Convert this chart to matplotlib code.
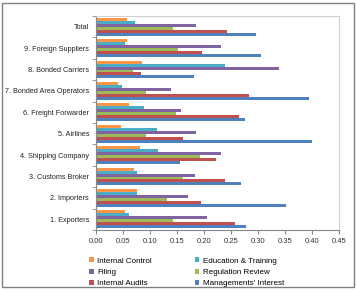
import matplotlib.pyplot as plt
import numpy as np
from matplotlib.patches import Rectangle

# categories from bottom to top
categories = ["1. Exporters", "2. Importers", "3. Customs Broker", "4. Shipping Company",
              "5. Airlines", "6. Freight Forwarder", "7. Bonded Area Operators",
              "8. Bonded Carriers", "9. Foreign Suppliers", "Total"]

internal_control = [0.053, 0.076, 0.071, 0.081, 0.047, 0.062, 0.041, 0.086, 0.057, 0.058]
education_training = [0.062, 0.076, 0.075, 0.115, 0.113, 0.089, 0.048, 0.238, 0.053, 0.073]
filing = [0.205, 0.170, 0.183, 0.231, 0.185, 0.157, 0.138, 0.338, 0.231, 0.185]
regulation_review = [0.143, 0.131, 0.161, 0.192, 0.093, 0.149, 0.093, 0.069, 0.152, 0.143]
internal_audits = [0.257, 0.194, 0.239, 0.223, 0.161, 0.264, 0.283, 0.084, 0.197, 0.243]
mgmt_interest = [0.278, 0.351, 0.269, 0.155, 0.400, 0.275, 0.394, 0.181, 0.306, 0.297]

series = [
    ("Internal Control", internal_control, "#F79646"),
    ("Education & Training", education_training, "#4BACC6"),
    ("Filing", filing, "#8064A2"),
    ("Regulation Review", regulation_review, "#9BBB59"),
    ("Internal Audits", internal_audits, "#C0504D"),
    ("Managements' Interest", mgmt_interest, "#4F81BD"),
]

plt.rcParams['font.family'] = ['Liberation Sans', 'DejaVu Sans']

fig = plt.figure(figsize=(3.56, 2.90), dpi=100)
ax = fig.add_axes([96 / 356, 1 - 230 / 290, 243 / 356, 214 / 290])

y = np.arange(len(categories))
h = 0.14
bars = {}
for i, (name, vals, col) in enumerate(series):
    # first series sits on top of each group
    bars[name] = ax.barh(y + (2.5 - i) * h, vals, height=h, color=col, label=name)

ax.set_xlim(0, 0.45)
ax.set_ylim(-0.5, len(categories) - 0.5)
ax.set_xticks(np.arange(0, 0.451, 0.05))
ax.set_xticklabels([f"{v:.2f}" for v in np.arange(0, 0.451, 0.05)], fontsize=5.5, color="#333333")
ax.set_yticks(y)
ax.set_yticklabels(categories, fontsize=5.2, color="#222222")
ax.set_yticks(np.arange(-0.5, len(categories), 1), minor=True)
ax.tick_params(axis="y", which="major", length=0, pad=5)
ax.tick_params(axis="y", which="minor", length=3, color="#888888")
ax.tick_params(axis="x", length=3, color="#888888", pad=3)
for s in ["left", "bottom"]:
    ax.spines[s].set_color("#888888")
    ax.spines[s].set_linewidth(0.8)
for s in ["top", "right"]:
    ax.spines[s].set_color("#D0D0D0")
    ax.spines[s].set_linewidth(0.8)

# legend laid out row by row like the original
order = ["Internal Control", "Education & Training", "Filing", "Regulation Review",
         "Internal Audits", "Managements' Interest"]
col_major = [order[0], order[2], order[4], order[1], order[3], order[5]]
fig.legend([bars[n] for n in col_major], col_major, ncol=2, loc="upper left",
           bbox_to_anchor=(86 / 356, 1 - 254 / 290), frameon=False, fontsize=5.8,
           handlelength=0.6, handleheight=0.6, handletextpad=0.4,
           columnspacing=5.3, labelspacing=0.5, borderaxespad=0)

# outer frame of the figure
fig.patches.append(Rectangle((0.006, 0.012), 0.988, 0.976, transform=fig.transFigure,
                             fill=False, edgecolor="#808080", linewidth=1.0))

fig.savefig("out.png", dpi=100)
